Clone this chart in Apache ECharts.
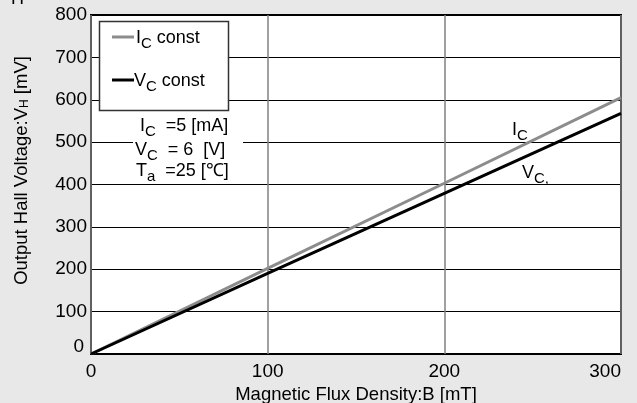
<!DOCTYPE html>
<html><head><meta charset="utf-8">
<script src="https://cdn.jsdelivr.net/npm/echarts@6/dist/echarts.min.js"></script>
<style>html,body{margin:0;padding:0;background:#e8e8e8}#c{width:637px;height:403px}</style>
</head><body><div id="c"></div>
<script>
const xTicks = [0, 100, 200, 300];
const yTicks = [0, 100, 200, 300, 400, 500, 600, 700, 800];
const fluxB = [0, 100, 200, 300];
const icConst = [0, 202, 403, 605];
const vcConst = [0, 190, 379, 568];

const F = 'Liberation Sans, Arial, sans-serif';
const chart = echarts.init(document.getElementById('c'));
const sub = {fontSize: 15, fontFamily: F, color: '#000', padding: [10, 0, 0, 0]};
const norm = {fontSize: 18, fontFamily: F, color: '#000'};
chart.setOption({
  backgroundColor: '#e8e8e8',
  animation: false,
  grid: {left: 91, right: 16, top: 15, bottom: 49, containLabel: false, outerBoundsMode: 'none', show: true, backgroundColor: '#fff', borderColor: '#000', borderWidth: 2},
  xAxis: {
    type: 'value', min: 0, max: 300, interval: 100,
    name: 'Magnetic Flux Density:B [mT]', nameLocation: 'middle', nameGap: 17,
    nameTextStyle: {fontSize: 18.5, fontFamily: F, color: '#000'},
    axisLine: {show: false}, axisTick: {show: false},
    axisLabel: {fontSize: 19, fontFamily: F, color: '#000', margin: 8, alignMaxLabel: 'right'},
    splitLine: {show: true, lineStyle: {color: '#808080', width: 1.5}}
  },
  yAxis: {
    type: 'value', min: 0, max: 800, interval: 100,
    name: '{n|Output Hall Voltage:V}{s|H}{n| [mV]}', nameLocation: 'middle', nameGap: 60,
    nameTextStyle: {padding: [0, 0, 0, 28], rich: {n: {fontSize: 18.5, fontFamily: F, color: '#000'}, s: {fontSize: 12, fontFamily: F, color: '#000', padding: [7, 0, 0, 0]}}},
    axisLine: {show: false}, axisTick: {show: false},
    axisLabel: {
      fontSize: 19, fontFamily: F, color: '#000', margin: 4,
      formatter: v => v === 0 ? '{z|0}' : String(v),
      rich: {z: {fontSize: 19, fontFamily: F, color: '#000', padding: [0, 3, 14, 0]}}
    },
    splitLine: {show: true, lineStyle: {color: '#000', width: 1}}
  },
  series: [
    {name: 'Ic', type: 'line', data: fluxB.map((x, i) => [x, icConst[i]]), symbol: 'none', lineStyle: {color: '#8c8c8c', width: 3}, z: 3},
    {name: 'Vc', type: 'line', data: fluxB.map((x, i) => [x, vcConst[i]]), symbol: 'none', lineStyle: {color: '#000', width: 3}, z: 4}
  ],
  graphic: [
    {type: 'text', x: 11, y: 8, style: {text: 'H', fontSize: 18, fontFamily: F, fill: '#000', verticalAlign: 'bottom'}},
    {type: 'rect', shape: {x: 99.5, y: 21.5, width: 129, height: 89}, style: {fill: '#fff', stroke: '#333', lineWidth: 1.5}, z: 10},
    {type: 'rect', shape: {x: 112, y: 35.5, width: 22, height: 3}, style: {fill: '#8c8c8c'}, z: 11},
    {type: 'text', x: 136, y: 26, style: {text: '{n|I}{s|C}{n| const}', rich: {n: norm, s: sub}}, z: 11},
    {type: 'rect', shape: {x: 112, y: 78.5, width: 22, height: 3}, style: {fill: '#000'}, z: 11},
    {type: 'text', x: 134, y: 69, style: {text: '{n|V}{s|C}{n| const}', rich: {n: norm, s: sub}}, z: 11},
    {type: 'rect', shape: {x: 133, y: 114, width: 110, height: 68}, style: {fill: '#fff'}, z: 10},
    {type: 'text', x: 140, y: 114, style: {text: '{n|I}{s|C}{n|  =5 [mA]}', rich: {n: norm, s: sub}}, z: 11},
    {type: 'text', x: 135, y: 138, style: {text: '{n|V}{s|C}{n|  = 6  [V]}', rich: {n: norm, s: sub}}, z: 11},
    {type: 'text', x: 136, y: 159, style: {text: '{n|T}{s|a}{n|  =25 [℃]}', rich: {n: norm, s: sub}}, z: 11},
    {type: 'text', x: 512, y: 118, style: {text: '{n|I}{s|C}', rich: {n: norm, s: sub}}, z: 11},
    {type: 'text', x: 522, y: 161, style: {text: '{n|V}{s|C,}', rich: {n: norm, s: sub}}, z: 11}
  ]
});
</script></body></html>
